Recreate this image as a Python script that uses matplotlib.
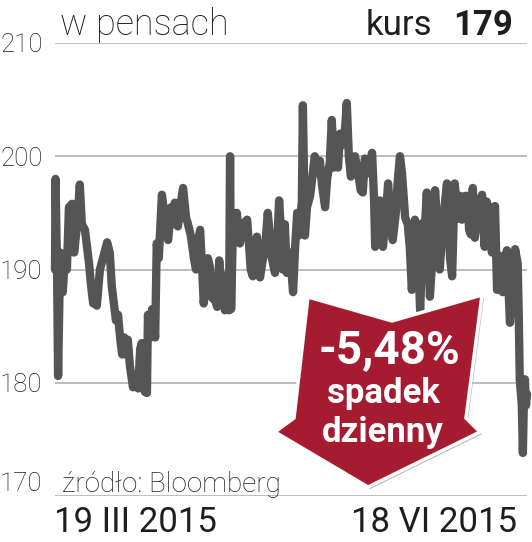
import matplotlib
matplotlib.use("Agg")
import matplotlib.pyplot as plt
import matplotlib.patheffects as pe
from matplotlib.patches import Polygon
from matplotlib.transforms import Affine2D

# --- dane: dni od 19 III 2015, kurs w pensach ---
dni = [
    0.0, 0.1, 0.4, 0.6, 1.0, 1.4, 1.5, 1.9, 2.3, 2.7,
    3.3, 3.7, 4.3, 4.8, 5.2, 5.8, 6.2, 6.6, 7.0, 7.4,
    7.7, 8.1, 8.7, 9.3, 10.1, 10.6, 11.0, 11.4, 11.8, 12.2,
    12.6, 13.0, 13.4, 13.7, 14.1, 14.5, 15.1, 15.7, 16.1, 16.5,
    16.8, 17.4, 17.8, 18.0, 18.4, 18.8, 19.4, 19.7, 20.1, 20.7,
    21.3, 21.9, 22.5, 22.8, 23.2, 23.8, 24.4, 24.8, 25.4, 25.7,
    26.3, 26.9, 27.3, 27.7, 28.1, 28.5, 28.8, 29.2, 29.6, 30.0,
    30.4, 31.0, 31.4, 31.8, 32.1, 32.5, 32.9, 33.3, 33.7, 33.9,
    34.1, 34.5, 34.8, 35.2, 35.8, 36.4, 37.2, 37.6, 37.9, 38.3,
    38.7, 39.1, 39.7, 40.1, 40.7, 41.2, 41.6, 42.0, 42.6, 43.0,
    43.4, 43.8, 44.1, 44.5, 44.9, 45.5, 46.1, 46.5, 46.9, 47.2,
    47.8, 48.0, 48.4, 48.8, 49.4, 49.8, 50.3, 50.9, 51.3, 51.7,
    52.3, 52.7, 53.2, 53.6, 54.0, 54.4, 54.8, 55.2, 55.6, 56.1,
    56.5, 56.9, 57.3, 57.7, 58.1, 58.7, 59.2, 59.6, 60.0, 60.6,
    61.0, 61.4, 61.8, 62.0, 62.3, 62.9, 63.3, 63.5, 64.1, 64.5,
    64.9, 65.4, 66.0, 66.4, 66.8, 67.2, 67.8, 68.3, 68.7, 69.1,
    69.5, 69.7, 70.1, 70.5, 70.7, 71.0, 71.2, 71.6, 72.0, 72.6,
    73.0, 73.6, 74.1, 74.5, 75.1, 75.9, 76.5, 76.9, 77.4, 78.0,
    78.4, 78.8, 79.4, 79.8, 80.2, 80.5, 80.9, 81.3, 81.9, 82.3,
    82.7, 83.1, 83.2, 83.6, 84.2, 84.6, 85.2, 85.6, 86.2, 86.7,
    87.1, 87.5, 88.1, 88.5, 89.1, 89.6, 89.8, 90.0, 90.4, 90.6,
    90.8, 91.0, 91.2, 91.4,
]
kurs = [
    190.0, 198.0, 190.0, 180.6, 191.5, 189.0, 188.0, 191.0, 190.0, 195.5,
    195.8, 191.5, 194.0, 197.5, 194.0, 193.5, 192.0, 190.5, 188.5, 187.0,
    187.5, 186.8, 190.0, 191.0, 192.4, 191.5, 188.5, 187.0, 185.5, 186.0,
    184.0, 182.5, 184.0, 182.5, 183.8, 181.5, 179.6, 180.5, 179.5, 183.0,
    183.5, 179.2, 179.1, 186.0, 184.0, 186.5, 184.0, 192.3, 191.0, 196.6,
    194.5, 192.6, 195.5, 194.0, 195.9, 193.8, 196.0, 197.2, 194.5, 194.1,
    193.0, 191.0, 190.0, 192.5, 193.5, 190.0, 187.0, 189.0, 191.0, 190.2,
    187.5, 187.3, 186.7, 190.8, 189.0, 189.5, 186.4, 188.0, 186.4, 200.0,
    186.5, 194.5, 193.0, 195.0, 192.3, 194.0, 194.4, 192.0, 190.0, 189.4,
    191.0, 192.9, 189.3, 190.5, 192.0, 195.0, 193.0, 191.0, 189.7, 192.0,
    196.1, 193.0, 190.0, 194.0, 189.7, 191.5, 188.0, 192.0, 195.0, 193.0,
    196.0, 204.5, 193.0, 195.5, 196.5, 198.0, 200.0, 198.5, 199.6, 197.5,
    195.5, 198.0, 199.4, 203.2, 199.0, 201.5, 199.0, 202.0, 201.0, 202.0,
    204.7, 200.0, 198.2, 199.5, 200.0, 198.5, 197.0, 196.8, 199.8, 198.5,
    199.5, 200.3, 196.0, 192.0, 195.0, 196.1, 193.0, 192.0, 195.0, 197.6,
    195.0, 192.6, 195.0, 198.0, 200.0, 198.5, 194.6, 194.0, 192.0, 188.2,
    191.0, 194.4, 193.0, 189.0, 186.4, 190.0, 194.1, 193.5, 196.8, 187.6,
    190.5, 197.0, 193.5, 190.0, 194.0, 197.6, 191.0, 189.4, 197.6, 194.5,
    196.5, 194.4, 196.5, 196.5, 193.5, 193.1, 197.2, 192.8, 195.0, 196.1,
    196.6, 193.0, 192.0, 196.0, 195.0, 191.5, 195.6, 188.2, 191.2, 188.0,
    190.0, 191.7, 185.3, 188.0, 191.8, 190.5, 186.0, 180.3, 178.0, 173.8,
    178.5, 180.3, 178.0, 179.0,
]
assert len(dni) == len(kurs)

y_ticks = [170, 180, 190, 200, 210]
y_labels = ["170", "180", "190", "200", "210"]
data_od = "19 III 2015"
data_do = "18 VI 2015"
kurs_ostatni = "179"
zmiana = "-5,48%"

W, H = 532, 542
LINE = "#555555"
GRID = "#b8b8b8"
RED = "#a51c30"
TXT = "#1e1e1e"
FONT = ["Roboto", "DejaVu Sans"]

plt.rcParams["font.family"] = FONT

fig = plt.figure(figsize=(W / 100, H / 100), dpi=100)
fig.patch.set_facecolor("white")

# axes in pixel box: x 55..527, y (top) 43..496
ax = fig.add_axes([55 / W, 1 - 496 / H, (527 - 55) / W, (496 - 43) / H])
ax.set_xlim(0, 91.4)
ax.set_ylim(170, 210)
for s in ax.spines.values():
    s.set_visible(False)
ax.set_xticks([])
ax.set_yticks(y_ticks)
ax.set_yticklabels(y_labels)
ax.tick_params(axis="y", length=0, pad=9, labelsize=18.5, labelcolor=TXT)
for lbl in ax.get_yticklabels():
    lbl.set_fontweight("light")
    if lbl.get_text() == "170":
        lbl.set_va("bottom")

for v in y_ticks:
    ax.axhline(v, color=GRID, lw=1.3, zorder=1)

ax.plot(dni, kurs, color=LINE, lw=6.0, solid_joinstyle="round",
        solid_capstyle="round", zorder=3, clip_on=False)

# pixel transform (origin top-left)
px = Affine2D().scale(1 / W, -1 / H).translate(0, 1) + fig.transFigure

# header
fig.text(60, 35, "w pensach", transform=px, fontsize=26, fontweight="light",
         color=TXT, va="baseline", ha="left")
fig.text(432, 35, "kurs", transform=px, fontsize=25, color=TXT,
         va="baseline", ha="right")
fig.text(513, 35, kurs_ostatni, transform=px, fontsize=25, fontweight="bold",
         color=TXT, va="baseline", ha="right")

# source
fig.text(62, 492, "źródło: Bloomberg", transform=px, fontsize=20,
         fontweight="light", color=TXT, va="baseline", ha="left")

# dates
fig.text(54, 532, data_od, transform=px, fontsize=25, color=TXT,
         va="baseline", ha="left")
fig.text(517, 532, data_do, transform=px, fontsize=25, color=TXT,
         va="baseline", ha="right")

# red arrow badge
arrow_pts = [(308, 297), (392, 321), (482, 295), (466, 418), (480, 432),
             (368, 487), (275, 432), (294, 418)]
badge = Polygon(arrow_pts, closed=True, transform=px, facecolor=RED,
                edgecolor="white", lw=2.5, zorder=10)
badge.set_path_effects([pe.SimplePatchShadow(offset=(1.5, -1.5),
                                             shadow_rgbFace="#888888",
                                             alpha=0.6), pe.Normal()])
fig.patches.append(badge)

fig.text(389, 363, zmiana, transform=px, fontsize=33, fontweight="bold",
         color="white", va="baseline", ha="center", zorder=11)
fig.text(383, 403, "spadek", transform=px, fontsize=25, fontweight="bold",
         color="white", va="baseline", ha="center", zorder=11)
fig.text(383, 442, "dzienny", transform=px, fontsize=25, fontweight="bold",
         color="white", va="baseline", ha="center", zorder=11)

fig.savefig("out.png", dpi=100, facecolor="white")
